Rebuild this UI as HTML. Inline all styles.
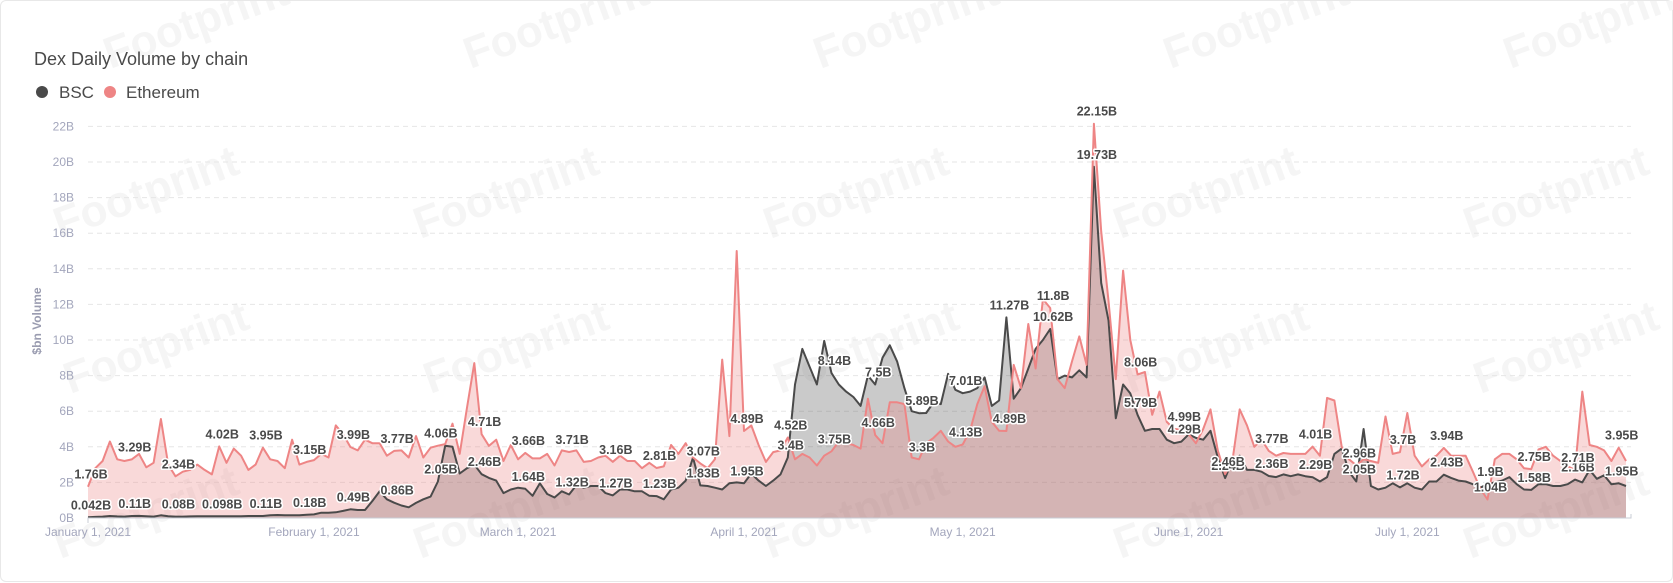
<!DOCTYPE html>
<html><head><meta charset="utf-8"><style>
html,body{margin:0;padding:0;background:#fff;}
body{width:1673px;height:582px;overflow:hidden;font-family:"Liberation Sans",sans-serif;}
#card{position:absolute;left:0;top:0;width:1671px;height:580px;border:1px solid #e8e8e8;border-radius:6px;background:#fff;}
</style></head><body>
<div id="card">
<svg id="chart" width="1673" height="582" style="position:absolute;left:0;top:0">
 <g id="wm"></g>
 <text x="33" y="64" font-size="18" fill="#4a4a4a">Dex Daily Volume by chain</text>
 <g><circle cx="41" cy="91" r="6" fill="#4a4a4a"/><text x="58" y="97" font-size="17" fill="#4a4a4a">BSC</text></g>
 <g><circle cx="109" cy="91" r="6" fill="#ee8585"/><text x="125" y="97" font-size="17" fill="#4a4a4a">Ethereum</text></g>
 <text transform="translate(40,320) rotate(-90)" text-anchor="middle" font-size="12" font-weight="bold" fill="#9a9cb0">$bn Volume</text>
 <g id="grid"></g><g id="areas"></g><g id="axes"></g><g id="labels"></g>
</svg>
</div>
<script>
const eth=[1.76,2.8,3.2,4.3,3.3,3.2,3.29,3.6,2.85,3.1,
5.56,3.0,2.34,2.6,2.7,3.0,2.7,2.45,4.02,3.1,
3.9,3.5,2.7,3.0,3.95,3.3,3.2,2.8,4.4,3.0,
3.15,3.25,3.6,3.4,5.2,4.7,3.99,3.8,4.4,4.2,
4.2,3.5,3.77,3.8,3.4,4.6,3.4,3.95,4.06,4.15,
5.3,3.6,6.2,8.7,4.71,4.05,4.4,3.2,4.1,3.3,
3.66,3.35,3.35,3.6,2.95,3.8,3.71,3.8,3.15,3.2,
3.4,3.5,3.16,3.5,3.2,3.2,2.8,3.1,2.81,2.9,
4.1,3.6,4.2,3.4,3.07,2.8,3.3,8.9,4.6,15.0,
4.89,5.2,4.1,3.15,3.7,3.8,4.52,3.3,3.6,3.4,
2.95,3.5,3.75,4.3,4.2,4.1,3.9,6.7,4.66,4.2,
6.5,6.5,6.4,3.4,3.3,4.2,4.5,4.9,4.3,4.0,
4.13,4.9,6.4,7.4,5.4,4.9,4.89,8.6,7.3,10.9,
8.4,12.3,11.8,7.8,7.3,8.8,10.2,8.6,22.15,16.1,
12.2,7.8,13.9,10.0,8.06,8.2,5.8,7.1,5.4,5.0,
4.99,4.7,4.2,5.0,6.1,3.8,2.46,3.2,6.1,5.2,
4.0,4.4,3.77,3.5,3.65,3.6,3.6,3.6,4.01,3.5,
6.75,6.6,4.0,3.3,2.96,3.3,3.2,3.1,5.7,3.6,
3.7,5.9,3.5,2.9,3.3,3.5,3.94,3.5,3.5,3.5,
2.6,1.65,1.04,3.3,3.6,3.6,3.3,2.8,2.75,3.85,
4.0,3.5,3.2,2.9,2.71,7.1,4.1,4.0,3.8,3.2,
3.95,3.2];
const bsc=[0.042,0.06,0.08,0.11,0.09,0.08,0.11,0.12,0.1,0.08,
0.15,0.1,0.08,0.08,0.09,0.1,0.1,0.1,0.098,0.1,
0.1,0.1,0.11,0.11,0.11,0.15,0.17,0.16,0.15,0.15,
0.18,0.2,0.3,0.3,0.32,0.4,0.49,0.45,0.45,0.95,
1.5,1.05,0.86,0.7,0.6,0.85,1.05,1.2,2.05,4.06,
4.0,2.5,2.8,3.0,2.46,2.25,2.1,1.4,1.6,1.7,
1.64,1.25,1.95,1.35,1.15,1.5,1.32,1.85,1.7,1.8,
1.8,1.4,1.27,1.6,1.6,1.5,1.5,1.25,1.23,1.05,
1.6,1.7,2.1,3.4,1.83,1.8,1.7,1.6,1.95,2.0,
1.95,2.5,2.1,1.8,2.1,2.45,3.4,7.5,9.5,8.5,
7.5,9.95,8.14,7.5,7.1,6.8,6.3,8.0,7.5,9.0,
9.7,8.8,7.3,6.0,5.89,5.9,6.5,6.4,8.1,7.2,
7.01,7.1,7.3,7.9,6.3,6.6,11.27,6.7,7.3,8.4,
9.5,10.0,10.62,7.8,8.0,7.9,8.3,7.9,19.73,13.2,
11.1,5.6,7.5,7.0,5.79,4.9,5.0,5.0,4.4,4.2,
4.29,4.7,4.5,4.4,4.9,3.4,2.24,3.2,3.5,2.7,
2.7,2.6,2.36,2.3,2.45,2.35,2.45,2.35,2.29,2.05,
2.3,3.6,3.9,2.6,2.05,5.0,1.8,1.6,1.7,1.95,
1.72,1.95,1.7,1.6,2.05,2.05,2.43,2.25,2.1,2.05,
1.9,1.7,1.9,2.0,2.1,2.3,1.9,1.6,1.58,1.9,
1.9,1.8,1.8,1.9,2.16,2.0,2.7,2.2,2.4,1.9,
1.95,1.8];
const yTicks=[0,2,4,6,8,10,12,14,16,18,20,22];
const xTickIdx=[0,31,59,90,120,151,181];
const xTickLabels=["January 1, 2021","February 1, 2021","March 1, 2021","April 1, 2021","May 1, 2021","June 1, 2021","July 1, 2021"];
const labelStep=6;

const NS="http://www.w3.org/2000/svg";
const X0=87,X1=1625,Y0=517,PER=17.8;
const N=eth.length;
function xs(i){return X0+i*(X1-X0)/(N-1);}
function ys(v){return Y0-v*PER;}
function mk(t,a,p){const e=document.createElementNS(NS,t);for(const k in a)e.setAttribute(k,a[k]);(p||document.getElementById('chart')).appendChild(e);return e;}

const wm=document.getElementById('wm');
[[35,[200,560,910,1260,1600]],[205,[150,510,860,1210,1560]],[360,[160,520,870,1220,1570]],[525,[150,510,860,1210,1560]]].forEach(r=>{r[1].forEach(x=>{const t=mk('text',{x:x,y:r[0],'font-size':44,'font-weight':'bold',fill:'#f5f5f5','text-anchor':'middle',transform:`rotate(-20 ${x} ${r[0]})`},wm);t.textContent='Footprint';});});

const grid=document.getElementById('grid');
yTicks.forEach(v=>{
 const l=mk('line',{x1:X0,x2:1630,y1:ys(v),y2:ys(v),stroke:'#e6e6e6','stroke-dasharray':'5,4'},grid);
 
 
 const t=mk('text',{x:73,y:ys(v)+4,'text-anchor':'end','font-size':12,fill:'#a3a6bc'},grid);
 t.textContent=v+'B';
 
 
});

function path(arr,close){let d='';arr.forEach((v,i)=>{d+=(i?'L':'M')+xs(i).toFixed(1)+','+ys(v).toFixed(1);});if(close)d+='L'+xs(N-1)+','+Y0+'L'+xs(0)+','+Y0+'Z';return d;}
const areas=document.getElementById('areas');
const ba=mk('path',{d:path(bsc,true),fill:'rgba(80,80,80,0.3)'},areas);


const ea=mk('path',{d:path(eth,true),fill:'rgba(236,130,130,0.3)'},areas);


const bl=mk('path',{d:path(bsc,false),fill:'none',stroke:'#4a4a4a','stroke-width':2,'stroke-linejoin':'round'},areas);


const el=mk('path',{d:path(eth,false),fill:'none',stroke:'#ee8585','stroke-width':2,'stroke-linejoin':'round'},areas);



const axes=document.getElementById('axes');
const ax=mk('path',{d:`M${X0},${Y0+5}V${Y0}H1630V${Y0-4}`,fill:'none',stroke:'#c8ccd6','stroke-width':1},axes);


xTickIdx.forEach((ix,k)=>{
 const t=mk('text',{x:xs(ix),y:535,'text-anchor':'middle','font-size':12,fill:'#a3a6bc'},axes);
 t.textContent=xTickLabels[k];
 
 
});

const labels=document.getElementById('labels');
[[bsc,'bsc'],[eth,'ethereum']].forEach(s=>{
 for(let i=0;i<N;i+=labelStep){
  const t=mk('text',{x:xs(i)+3,y:ys(s[0][i])-8,'text-anchor':'middle','font-size':12.5,'font-weight':'bold',fill:'#4a4a4a',stroke:'#fff','stroke-width':3,'paint-order':'stroke','stroke-linejoin':'round'},labels);
  t.textContent=s[0][i]+'B';
  
  
 }
});
</script>
</body></html>
